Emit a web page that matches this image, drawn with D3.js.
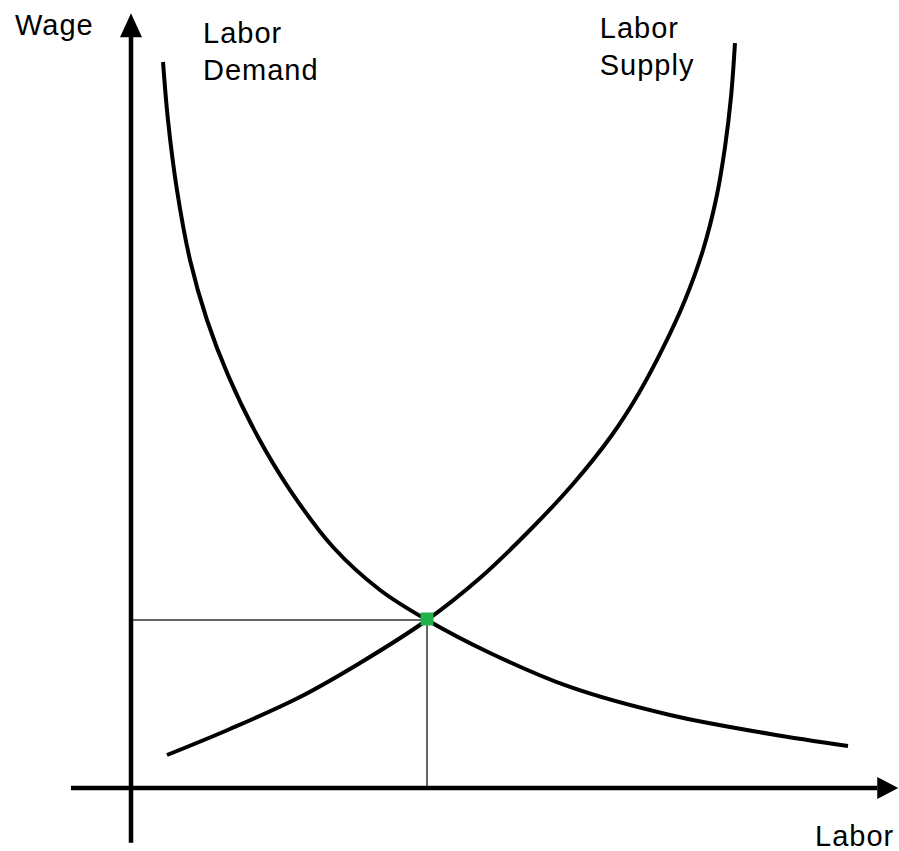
<!DOCTYPE html>
<html>
<head>
<meta charset="utf-8">
<script src="https://cdn.jsdelivr.net/npm/d3@7"></script>
<style>
  body { margin: 0; background: #fff; }
  text { font-family: "Liberation Sans", Arial, sans-serif; font-size: 29px; letter-spacing: 1px; fill: #000; }
</style>
</head>
<body>
<svg id="chart" width="899" height="851"></svg>
<script>
// labor demand curve (labor, wage)
const demandLabor = [4.27, 4.93, 6.13, 7.87, 10.13, 12.93, 16.93, 21.2, 26.93, 33.2, 39.47, 47.87, 58.53, 71.87, 85.2, 95.6];
const demandWage  = [96.8, 89.07, 79.73, 70.4, 62.4, 55.07, 46.8, 39.73, 32.13, 26.4, 22.4, 18.0, 13.47, 9.73, 7.2, 5.6];

// labor supply curve (labor, wage)
const supplyLabor = [4.8, 13.2, 22.53, 30.53, 39.47, 46.53, 53.2, 58.93, 64.13, 67.73, 70.93, 73.87, 76.27, 78.07, 79.2, 80.0, 80.53];
const supplyWage  = [4.4, 7.87, 12.13, 16.67, 22.4, 28.0, 34.4, 40.53, 47.07, 52.67, 58.67, 65.07, 71.73, 78.8, 85.47, 92.13, 99.33];

// equilibrium point
const eqLabor = [39.47];
const eqWage = [22.4];

const labels = [
  {text: ["Labor", "Demand"], x: 9.6, y: 99.3},
  {text: ["Labor", "Supply"], x: 62.5, y: 100}
];

const svg = d3.select("#chart");
const x = d3.scaleLinear().domain([0, 100]).range([131, 881]);
const y = d3.scaleLinear().domain([0, 100]).range([788, 38]);

const line = d3.line()
  .x(d => x(d[0]))
  .y(d => y(d[1]))
  .curve(d3.curveCatmullRom.alpha(0.5));

// guide lines to axes
svg.append("line")
  .attr("x1", x(0)).attr("x2", x(eqLabor[0]))
  .attr("y1", y(eqWage[0])).attr("y2", y(eqWage[0]))
  .attr("stroke", "#333").attr("stroke-width", 1.5);
svg.append("line")
  .attr("x1", x(eqLabor[0])).attr("x2", x(eqLabor[0]))
  .attr("y1", y(eqWage[0])).attr("y2", y(0))
  .attr("stroke", "#333").attr("stroke-width", 1.5);

// axes
svg.append("line")
  .attr("x1", x(0)).attr("x2", x(0))
  .attr("y1", y(-7.3)).attr("y2", y(100.5))
  .attr("stroke", "#000").attr("stroke-width", 4.5);
svg.append("path")
  .attr("d", `M${x(0)},${y(103.3)} L${x(0) - 11},${y(100.1)} L${x(0) + 11},${y(100.1)} Z`)
  .attr("fill", "#000");
svg.append("line")
  .attr("x1", x(-8)).attr("x2", x(99.5))
  .attr("y1", y(0)).attr("y2", y(0))
  .attr("stroke", "#000").attr("stroke-width", 4.5);
svg.append("path")
  .attr("d", `M${x(102.3)},${y(0)} L${x(99.5)},${y(0) - 11} L${x(99.5)},${y(0) + 11} Z`)
  .attr("fill", "#000");

// curves
svg.append("path")
  .datum(d3.zip(demandLabor, demandWage))
  .attr("d", line)
  .attr("fill", "none").attr("stroke", "#000").attr("stroke-width", 4);
svg.append("path")
  .datum(d3.zip(supplyLabor, supplyWage))
  .attr("d", line)
  .attr("fill", "none").attr("stroke", "#000").attr("stroke-width", 4);

// equilibrium marker
svg.selectAll("rect.eq").data(d3.zip(eqLabor, eqWage)).enter().append("rect")
  .attr("class", "eq")
  .attr("x", d => x(d[0]) - 6.5)
  .attr("y", d => y(d[1]) - 7.5)
  .attr("width", 13).attr("height", 13)
  .attr("fill", "#22b14c");

// text
svg.append("text").attr("x", 15).attr("y", 35).text("Wage");
svg.append("text").attr("x", 815).attr("y", 846).text("Labor");

labels.forEach(l => {
  const t = svg.append("text").attr("x", x(l.x)).attr("y", y(l.y));
  l.text.forEach((s, i) => {
    t.append("tspan").attr("x", x(l.x)).attr("dy", i === 0 ? 0 : 37).text(s);
  });
});
</script>
</body>
</html>
